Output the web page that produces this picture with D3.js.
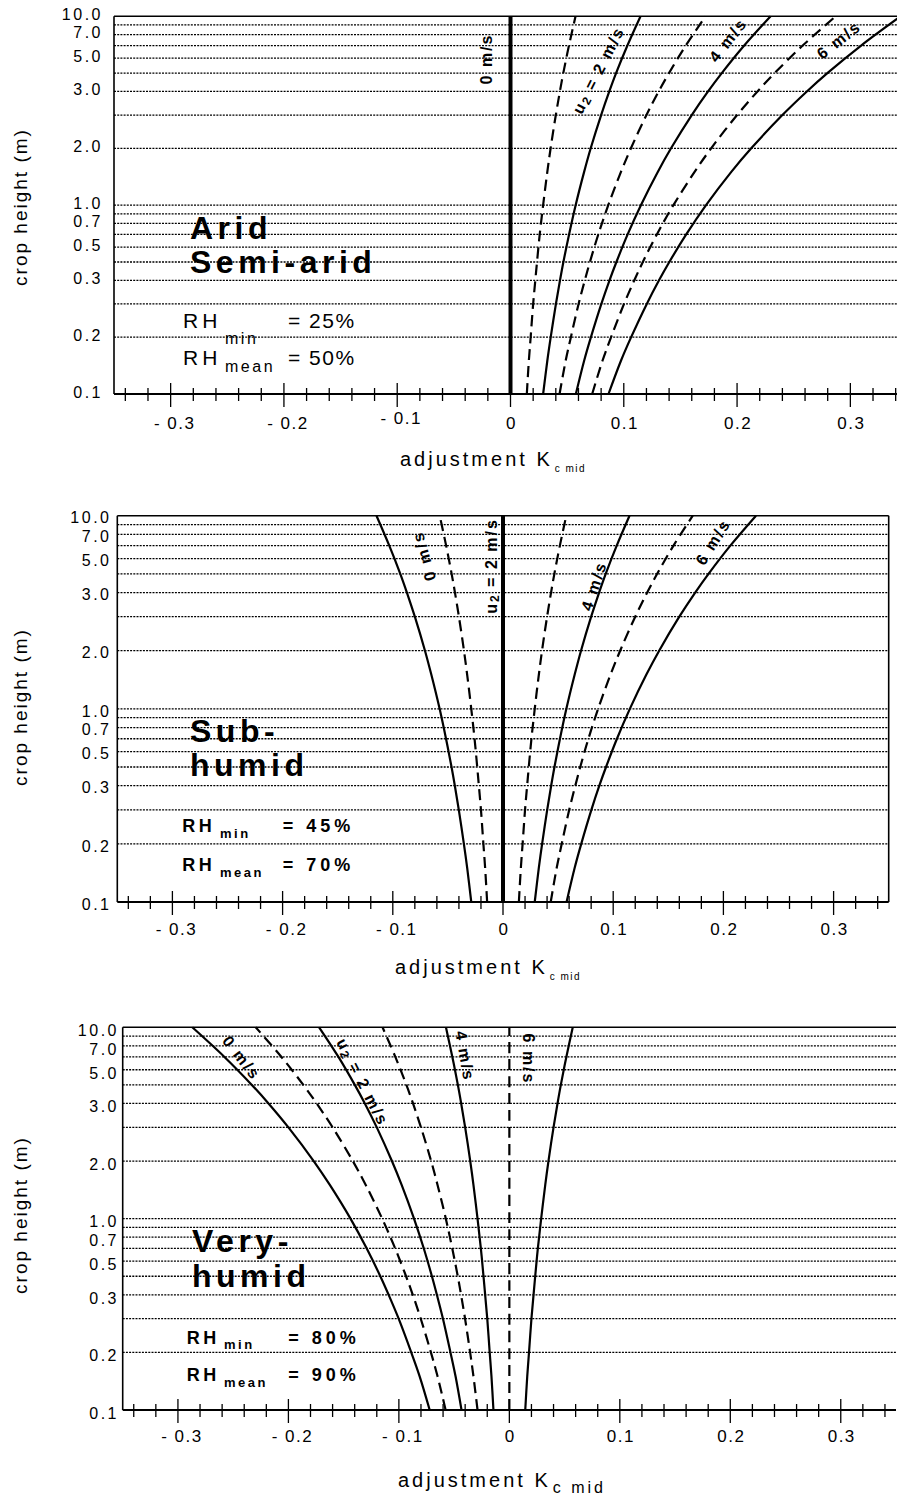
<!DOCTYPE html>
<html>
<head>
<meta charset="utf-8">
<script src="https://cdn.jsdelivr.net/npm/d3@7"></script>
<style>
  body { margin: 0; background: #fff; }
  svg { display: block; font-family: "Liberation Sans", Arial, sans-serif; }
</style>
</head>
<body>
<svg id="chart" width="897" height="1497"></svg>
<script>
// Crop heights (m) at which the curves were read
const heights = [0.1, 0.15, 0.2, 0.3, 0.4, 0.5, 0.7, 1, 1.5, 2, 3, 4, 5, 7, 10];
// Wind speeds u2 (m/s), one curve each
const windSpeeds = [0, 1, 2, 3, 4, 5, 6];

// Kc mid adjustment, per climate
const aridKc = [
  [0, 0, 0, 0, 0, 0, 0, 0, 0, 0, 0, 0, 0, 0, 0],
  [0.0144, 0.0162, 0.0178, 0.0200, 0.0219, 0.0234, 0.0258, 0.0288, 0.0325, 0.0354, 0.0400, 0.0436, 0.0466, 0.0516, 0.0574],
  [0.0288, 0.0325, 0.0355, 0.0401, 0.0437, 0.0467, 0.0517, 0.0575, 0.0650, 0.0708, 0.0800, 0.0872, 0.0932, 0.1032, 0.1148],
  [0.0433, 0.0487, 0.0533, 0.0601, 0.0656, 0.0701, 0.0775, 0.0863, 0.0975, 0.1063, 0.1200, 0.1308, 0.1399, 0.1547, 0.1722],
  [0.0577, 0.0650, 0.0710, 0.0802, 0.0874, 0.0935, 0.1034, 0.1151, 0.1300, 0.1417, 0.1600, 0.1744, 0.1865, 0.2063, 0.2296],
  [0.0721, 0.0812, 0.0888, 0.1002, 0.1093, 0.1168, 0.1292, 0.1438, 0.1625, 0.1771, 0.2000, 0.2180, 0.2331, 0.2579, 0.2870],
  [0.0865, 0.0975, 0.1065, 0.1203, 0.1311, 0.1402, 0.1551, 0.1726, 0.1949, 0.2125, 0.2400, 0.2616, 0.2797, 0.3095, 0.3444]
];
const subHumidKc = [
  [-0.0288, -0.0325, -0.0355, -0.0401, -0.0437, -0.0467, -0.0517, -0.0575, -0.0650, -0.0708, -0.0800, -0.0872, -0.0932, -0.1032, -0.1148],
  [-0.0144, -0.0162, -0.0178, -0.0200, -0.0219, -0.0234, -0.0258, -0.0288, -0.0325, -0.0354, -0.0400, -0.0436, -0.0466, -0.0516, -0.0574],
  [0, 0, 0, 0, 0, 0, 0, 0, 0, 0, 0, 0, 0, 0, 0],
  [0.0144, 0.0162, 0.0178, 0.0200, 0.0219, 0.0234, 0.0258, 0.0288, 0.0325, 0.0354, 0.0400, 0.0436, 0.0466, 0.0516, 0.0574],
  [0.0288, 0.0325, 0.0355, 0.0401, 0.0437, 0.0467, 0.0517, 0.0575, 0.0650, 0.0708, 0.0800, 0.0872, 0.0932, 0.1032, 0.1148],
  [0.0433, 0.0487, 0.0533, 0.0601, 0.0656, 0.0701, 0.0775, 0.0863, 0.0975, 0.1063, 0.1200, 0.1308, 0.1399, 0.1547, 0.1722],
  [0.0577, 0.0650, 0.0710, 0.0802, 0.0874, 0.0935, 0.1034, 0.1151, 0.1300, 0.1417, 0.1600, 0.1744, 0.1865, 0.2063, 0.2296]
];
const veryHumidKc = [
  [-0.0721, -0.0812, -0.0888, -0.1002, -0.1093, -0.1168, -0.1292, -0.1438, -0.1625, -0.1771, -0.2000, -0.2180, -0.2331, -0.2579, -0.2870],
  [-0.0577, -0.0650, -0.0710, -0.0802, -0.0874, -0.0935, -0.1034, -0.1151, -0.1300, -0.1417, -0.1600, -0.1744, -0.1865, -0.2063, -0.2296],
  [-0.0433, -0.0487, -0.0533, -0.0601, -0.0656, -0.0701, -0.0775, -0.0863, -0.0975, -0.1063, -0.1200, -0.1308, -0.1399, -0.1547, -0.1722],
  [-0.0288, -0.0325, -0.0355, -0.0401, -0.0437, -0.0467, -0.0517, -0.0575, -0.0650, -0.0708, -0.0800, -0.0872, -0.0932, -0.1032, -0.1148],
  [-0.0144, -0.0162, -0.0178, -0.0200, -0.0219, -0.0234, -0.0258, -0.0288, -0.0325, -0.0354, -0.0400, -0.0436, -0.0466, -0.0516, -0.0574],
  [0, 0, 0, 0, 0, 0, 0, 0, 0, 0, 0, 0, 0, 0, 0],
  [0.0144, 0.0162, 0.0178, 0.0200, 0.0219, 0.0234, 0.0258, 0.0288, 0.0325, 0.0354, 0.0400, 0.0436, 0.0466, 0.0516, 0.0574]
];

// Dotted horizontal grid lines (m)
const gridHeights = [0.2, 0.3, 0.4, 0.5, 0.6, 0.7, 0.8, 0.9, 1, 2, 3, 4, 5, 6, 7, 8, 9];
// Y tick labels and the height they sit at in the original
const yTickLabels = ["0.1", "0.2", "0.3", "0.5", "0.7", "1.0", "2.0", "3.0", "5.0", "7.0", "10.0"];
const yTickSpots = [0.1, 0.2, 0.4, 0.6, 0.8, 1, 2, 4, 6, 8, 10];
// X ticks
const xMajorTicks = [-0.3, -0.2, -0.1, 0, 0.1, 0.2, 0.3];
const xTickLabels = ["- 0.3", "- 0.2", "- 0.1", "0", "0.1", "0.2", "0.3"];

// Layout of each panel
const panels = [
  {
    kc: aridKc, thick: 0,
    left: 114, right: 907, top: 16.3, bottom: 394, frameRight: false,
    yLabelEnd: 103, yLabelNudge: -2, xLabelY: 429, yTitleY: 207,
    title: { x: 400, y: 466, subSize: 10, subSpacing: 1.5 },
    climate: ["Arid", "Semi-arid"], climateX: 190, climateY: [239.3, 273.3],
    rhBold: false, rhSize: 21, rhSubSize: 16,
    rh: [
      { sub: "min", value: "= 25%", x: 183, subX: 225, eqX: 288, y: 328.3, subY: 344 },
      { sub: "mean", value: "= 50%", x: 183, subX: 225, eqX: 288, y: 365, subY: 371.5 }
    ],
    curveLabels: [
      { text: "0 m/s", x: 486, y: 59, a: -90 },
      { text: "u2", x: 598, y: 70, a: -63 },
      { text: "4 m/s", x: 728, y: 40, a: -52 },
      { text: "6 m/s", x: 839, y: 40, a: -38 }
    ]
  },
  {
    kc: subHumidKc, thick: 2,
    left: 117.3, right: 888.7, top: 515.7, bottom: 902, frameRight: true,
    yLabelEnd: 111.5, yLabelNudge: 2, xLabelY: 935, yTitleY: 707,
    title: { x: 395, y: 974, subSize: 10, subSpacing: 1.5 },
    climate: ["Sub-", "humid"], climateX: 190, climateY: [741.7, 776],
    rhBold: true, rhSize: 18, rhSubSize: 13,
    rh: [
      { sub: "min", value: "= 45%", x: 182.3, subX: 220, eqX: 282.7, y: 832.3, subY: 838.3 },
      { sub: "mean", value: "= 70%", x: 182.3, subX: 220, eqX: 282.7, y: 870.7, subY: 876.7 }
    ],
    curveLabels: [
      { text: "0 m/s", x: 424, y: 556, a: -106 },
      { text: "u2", x: 491, y: 566, a: -90 },
      { text: "4 m/s", x: 594, y: 586, a: -72 },
      { text: "6 m/s", x: 713, y: 542, a: -58 }
    ]
  },
  {
    kc: veryHumidKc, thick: -1,
    left: 122.7, right: 896, top: 1027.3, bottom: 1410, frameRight: false,
    yLabelEnd: 119, yLabelNudge: 3, xLabelY: 1442, yTitleY: 1215,
    title: { x: 398, y: 1486.7, subSize: 16, subSpacing: 3 },
    climate: ["Very-", "humid"], climateX: 192, climateY: [1252, 1287],
    rhBold: true, rhSize: 18, rhSubSize: 13,
    rh: [
      { sub: "min", value: "= 80%", x: 186.7, subX: 224, eqX: 288.3, y: 1344, subY: 1349.3 },
      { sub: "mean", value: "= 90%", x: 186.7, subX: 224, eqX: 288.3, y: 1380.7, subY: 1386.7 }
    ],
    curveLabels: [
      { text: "0 m/s", x: 241.5, y: 1058, a: 52 },
      { text: "u2", x: 363, y: 1082, a: 63 },
      { text: "4 m/s", x: 465, y: 1056, a: 80 },
      { text: "6 m/s", x: 528, y: 1059, a: 90 }
    ]
  }
];

const svg = d3.select("#chart");

panels.forEach(drawPanel);

function drawPanel(p) {
  const x = d3.scaleLinear().domain([-0.35, 0.35]).range([p.left, p.right]);
  const y = d3.scaleLog().domain([0.1, 10]).range([p.bottom, p.top]);
  const g = svg.append("g");

  // Dotted grid lines
  g.selectAll(".grid")
    .data(gridHeights)
    .enter()
    .append("line")
    .attr("class", "grid")
    .attr("x1", p.left)
    .attr("x2", p.right)
    .attr("y1", (d) => y(d))
    .attr("y2", (d) => y(d))
    .attr("stroke", "#000")
    .attr("stroke-width", 1.3)
    .attr("stroke-dasharray", "2,1.2");

  // Frame: top, left (and right where visible)
  g.append("line")
    .attr("x1", p.left).attr("x2", p.right)
    .attr("y1", y(10)).attr("y2", y(10))
    .attr("stroke", "#000").attr("stroke-width", 1.6);
  g.append("line")
    .attr("x1", p.left).attr("x2", p.left)
    .attr("y1", y(10)).attr("y2", y(0.1))
    .attr("stroke", "#000").attr("stroke-width", 1.6);
  if (p.frameRight) {
    g.append("line")
      .attr("x1", p.right).attr("x2", p.right)
      .attr("y1", y(10)).attr("y2", y(0.1))
      .attr("stroke", "#000").attr("stroke-width", 1.6);
  }

  // X axis line and ticks crossing it
  const axisY = y(0.1);
  g.append("line")
    .attr("x1", p.left).attr("x2", p.right)
    .attr("y1", axisY).attr("y2", axisY)
    .attr("stroke", "#000").attr("stroke-width", 2);

  const minorTicks = d3.range(-17, 18)
    .map((i) => i / 50)
    .filter((v) => Math.abs(Math.round(v * 10) - v * 10) > 1e-6);

  g.selectAll(".minor")
    .data(minorTicks)
    .enter()
    .append("line")
    .attr("x1", (d) => x(d)).attr("x2", (d) => x(d))
    .attr("y1", axisY - 6).attr("y2", axisY + 7)
    .attr("stroke", "#000").attr("stroke-width", 1.3);

  g.selectAll(".major")
    .data(xMajorTicks)
    .enter()
    .append("line")
    .attr("x1", (d) => x(d)).attr("x2", (d) => x(d))
    .attr("y1", axisY - 11).attr("y2", axisY + 13)
    .attr("stroke", "#000").attr("stroke-width", 1.3);

  g.selectAll(".xlab")
    .data(xMajorTicks)
    .enter()
    .append("text")
    .attr("x", (d) => x(d) + (d < 0 ? 4 : 1))
    .attr("y", (d) => p.xLabelY - (p.top < 100 && d === -0.1 ? 5 : 0))
    .attr("text-anchor", "middle")
    .attr("font-size", 17)
    .attr("letter-spacing", 1.5)
    .text((d, i) => xTickLabels[i]);

  // X axis title
  const title = g.append("text")
    .attr("x", p.title.x)
    .attr("y", p.title.y)
    .attr("font-size", 20)
    .attr("letter-spacing", 3);
  title.append("tspan").text("adjustment K");
  title.append("tspan")
    .attr("font-size", p.title.subSize)
    .attr("letter-spacing", p.title.subSpacing)
    .attr("dx", 2)
    .attr("dy", 6)
    .text("c mid");

  // Y tick labels
  g.selectAll(".ylab")
    .data(yTickSpots)
    .enter()
    .append("text")
    .attr("x", p.yLabelEnd)
    .attr("y", (d) => y(d) + p.yLabelNudge)
    .attr("dy", "0.36em")
    .attr("text-anchor", "end")
    .attr("font-size", 16)
    .attr("letter-spacing", 2.5)
    .text((d, i) => yTickLabels[i]);

  // Y axis title
  g.append("text")
    .attr("transform", `translate(27,${p.yTitleY}) rotate(-90)`)
    .attr("text-anchor", "middle")
    .attr("font-size", 19)
    .attr("letter-spacing", 2)
    .text("crop height (m)");

  // Curves, one per wind speed
  const line = d3.line()
    .x((d) => x(d[1]))
    .y((d) => y(d[0]))
    .curve(d3.curveCatmullRom.alpha(0.5));

  p.kc.forEach((vals, i) => {
    g.append("path")
      .datum(heights.map((h, j) => [h, vals[j]]))
      .attr("d", line)
      .attr("fill", "none")
      .attr("stroke", "#000")
      .attr("stroke-width", i === p.thick ? 4 : 2.2)
      .attr("stroke-dasharray", windSpeeds[i] % 2 === 1 ? "11,6" : null);
  });

  // Curve labels
  p.curveLabels.forEach((c) => {
    const t = g.append("text")
      .attr("transform", `translate(${c.x},${c.y}) rotate(${c.a})`)
      .attr("text-anchor", "middle")
      .attr("dominant-baseline", "central")
      .attr("font-size", 16)
      .attr("font-weight", "bold")
      .attr("letter-spacing", 2)
      .attr("fill", "#000");
    if (c.text === "u2") {
      t.append("tspan").text("u");
      t.append("tspan").attr("font-size", 12).attr("dy", 4).text("2");
      t.append("tspan").attr("dy", -4).text(" = 2 m/s");
    } else {
      t.text(c.text);
    }
  });

  // Climate name
  p.climate.forEach((txt, i) => {
    g.append("text")
      .attr("x", p.climateX)
      .attr("y", p.climateY[i])
      .attr("font-size", 32)
      .attr("font-weight", "bold")
      .attr("letter-spacing", 4.5)
      .text(txt);
  });

  // RH values
  const weight = p.rhBold ? "bold" : "normal";
  p.rh.forEach((r) => {
    g.append("text")
      .attr("x", r.x).attr("y", r.y)
      .attr("font-size", p.rhSize).attr("font-weight", weight)
      .attr("letter-spacing", p.rhBold ? 3.5 : 4)
      .text("RH");
    g.append("text")
      .attr("x", r.subX).attr("y", r.subY)
      .attr("font-size", p.rhSubSize).attr("font-weight", weight)
      .attr("letter-spacing", 2.5)
      .text(r.sub);
    g.append("text")
      .attr("x", r.eqX).attr("y", r.y)
      .attr("font-size", p.rhSize).attr("font-weight", weight)
      .attr("letter-spacing", p.rhBold ? 4 : 1.5)
      .text(r.value);
  });
}
</script>
</body>
</html>
